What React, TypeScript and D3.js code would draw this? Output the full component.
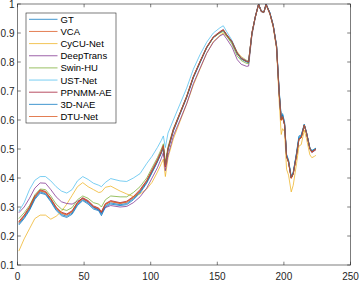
import React from "react";
import * as d3 from "d3";

const bands = [1, 5, 9, 13, 17, 21, 25, 29, 33, 37, 41, 45, 49, 53, 57, 61, 63, 66, 70, 77, 82, 87, 92, 97, 101, 105, 108, 109.5, 111, 113, 117, 122, 127, 132, 137, 142, 147, 152, 154.5, 157, 161, 165, 168, 172, 173.5, 176, 178.5, 181, 183, 185, 186.6, 189.5, 192, 194.5, 196.5, 198, 199, 200.5, 202, 203.5, 205.5, 207, 209.5, 211.3, 213, 215.3, 217, 219.5, 221, 223, 224];

const GT = [0.238, 0.26, 0.288, 0.326, 0.348, 0.343, 0.318, 0.288, 0.27, 0.264, 0.275, 0.305, 0.322, 0.31, 0.293, 0.287, 0.27, 0.3, 0.31, 0.305, 0.308, 0.325, 0.348, 0.382, 0.418, 0.455, 0.486, 0.505, 0.445, 0.498, 0.562, 0.62, 0.677, 0.745, 0.797, 0.848, 0.884, 0.902, 0.91, 0.893, 0.868, 0.828, 0.81, 0.8, 0.798, 0.898, 0.955, 1.0, 0.976, 0.973, 1.0, 0.97, 0.928, 0.858, 0.7, 0.61, 0.622, 0.592, 0.482, 0.462, 0.405, 0.42, 0.488, 0.545, 0.548, 0.585, 0.558, 0.505, 0.495, 0.5, 0.503];
const VCA = [0.245, 0.268, 0.295, 0.333, 0.355, 0.35, 0.326, 0.296, 0.278, 0.272, 0.283, 0.313, 0.328, 0.318, 0.3, 0.293, 0.28, 0.308, 0.318, 0.312, 0.316, 0.332, 0.355, 0.388, 0.423, 0.458, 0.488, 0.508, 0.442, 0.5, 0.565, 0.622, 0.679, 0.748, 0.8, 0.85, 0.885, 0.903, 0.91, 0.894, 0.87, 0.83, 0.812, 0.802, 0.8, 0.9, 0.955, 1.0, 0.975, 0.972, 1.0, 0.968, 0.925, 0.853, 0.688, 0.598, 0.61, 0.583, 0.473, 0.453, 0.398, 0.413, 0.478, 0.533, 0.538, 0.582, 0.553, 0.5, 0.488, 0.495, 0.498];
const CyCU = [0.148, 0.19, 0.225, 0.26, 0.272, 0.272, 0.258, 0.268, 0.285, 0.31, 0.34, 0.37, 0.384, 0.37, 0.36, 0.35, 0.352, 0.368, 0.372, 0.355, 0.345, 0.336, 0.345, 0.362, 0.385, 0.42, 0.45, 0.465, 0.405, 0.47, 0.535, 0.595, 0.655, 0.72, 0.775, 0.83, 0.87, 0.892, 0.9, 0.888, 0.868, 0.835, 0.818, 0.806, 0.804, 0.9, 0.955, 1.0, 0.975, 0.972, 0.998, 0.965, 0.92, 0.845, 0.66, 0.55, 0.57, 0.56, 0.43, 0.41, 0.352, 0.375, 0.45, 0.51, 0.515, 0.565, 0.535, 0.48, 0.47, 0.475, 0.478];
const DeepTrans = [0.28, 0.3, 0.33, 0.365, 0.383, 0.382, 0.36, 0.335, 0.318, 0.312, 0.31, 0.32, 0.33, 0.318, 0.3, 0.29, 0.28, 0.298, 0.305, 0.3, 0.302, 0.315, 0.335, 0.365, 0.4, 0.435, 0.468, 0.488, 0.425, 0.478, 0.545, 0.6, 0.656, 0.725, 0.778, 0.83, 0.868, 0.89, 0.896, 0.88, 0.852, 0.808, 0.792, 0.785, 0.786, 0.892, 0.952, 0.998, 0.973, 0.97, 0.996, 0.965, 0.922, 0.85, 0.685, 0.6, 0.61, 0.583, 0.475, 0.455, 0.4, 0.415, 0.48, 0.535, 0.54, 0.582, 0.553, 0.5, 0.488, 0.494, 0.497];
const SwinHU = [0.26, 0.28, 0.305, 0.342, 0.362, 0.36, 0.338, 0.31, 0.293, 0.288, 0.298, 0.325, 0.338, 0.33, 0.315, 0.31, 0.3, 0.325, 0.338, 0.335, 0.335, 0.35, 0.37, 0.4, 0.435, 0.47, 0.5, 0.518, 0.455, 0.508, 0.57, 0.625, 0.682, 0.748, 0.8, 0.85, 0.885, 0.9, 0.905, 0.89, 0.862, 0.82, 0.805, 0.795, 0.794, 0.896, 0.954, 0.999, 0.974, 0.971, 0.998, 0.967, 0.924, 0.852, 0.688, 0.6, 0.61, 0.584, 0.475, 0.455, 0.4, 0.415, 0.48, 0.535, 0.54, 0.583, 0.555, 0.502, 0.49, 0.497, 0.5];
const USTNet = [0.285, 0.315, 0.36, 0.392, 0.405, 0.405, 0.39, 0.37, 0.355, 0.348, 0.36, 0.39, 0.405, 0.395, 0.382, 0.375, 0.37, 0.385, 0.398, 0.39, 0.388, 0.4, 0.415, 0.45, 0.475, 0.505, 0.53, 0.545, 0.505, 0.555, 0.6, 0.655, 0.71, 0.775, 0.825, 0.868, 0.9, 0.918, 0.925, 0.905, 0.875, 0.832, 0.815, 0.805, 0.803, 0.9, 0.956, 1.0, 0.976, 0.973, 1.0, 0.97, 0.927, 0.855, 0.695, 0.608, 0.62, 0.59, 0.48, 0.46, 0.403, 0.418, 0.485, 0.54, 0.545, 0.585, 0.556, 0.502, 0.492, 0.5, 0.502];
const PPNMM = [0.25, 0.272, 0.3, 0.338, 0.359, 0.354, 0.33, 0.3, 0.282, 0.276, 0.287, 0.316, 0.332, 0.322, 0.304, 0.296, 0.284, 0.312, 0.322, 0.315, 0.32, 0.336, 0.36, 0.392, 0.428, 0.463, 0.493, 0.512, 0.438, 0.502, 0.568, 0.625, 0.682, 0.75, 0.802, 0.852, 0.887, 0.905, 0.912, 0.895, 0.871, 0.831, 0.813, 0.803, 0.801, 0.9, 0.956, 1.0, 0.975, 0.972, 1.0, 0.968, 0.925, 0.853, 0.69, 0.6, 0.612, 0.585, 0.475, 0.455, 0.4, 0.415, 0.48, 0.535, 0.54, 0.583, 0.555, 0.502, 0.49, 0.497, 0.5];
const NAE3D = [0.242, 0.264, 0.292, 0.33, 0.352, 0.346, 0.322, 0.292, 0.274, 0.268, 0.279, 0.309, 0.325, 0.314, 0.297, 0.29, 0.275, 0.304, 0.314, 0.308, 0.312, 0.329, 0.352, 0.385, 0.42, 0.456, 0.487, 0.506, 0.443, 0.498, 0.563, 0.621, 0.678, 0.746, 0.798, 0.849, 0.884, 0.902, 0.909, 0.892, 0.869, 0.829, 0.811, 0.801, 0.799, 0.899, 0.955, 1.0, 0.975, 0.972, 1.0, 0.969, 0.926, 0.855, 0.695, 0.605, 0.618, 0.588, 0.478, 0.458, 0.402, 0.418, 0.485, 0.54, 0.545, 0.584, 0.556, 0.503, 0.493, 0.499, 0.502];
const DTUNet = [0.248, 0.27, 0.298, 0.336, 0.357, 0.352, 0.328, 0.298, 0.28, 0.274, 0.285, 0.315, 0.33, 0.32, 0.302, 0.295, 0.282, 0.31, 0.32, 0.313, 0.318, 0.334, 0.357, 0.39, 0.425, 0.46, 0.49, 0.51, 0.44, 0.5, 0.566, 0.623, 0.68, 0.749, 0.8, 0.85, 0.885, 0.903, 0.91, 0.893, 0.87, 0.83, 0.812, 0.802, 0.8, 0.9, 0.955, 0.998, 0.975, 0.972, 0.998, 0.968, 0.925, 0.853, 0.69, 0.6, 0.612, 0.585, 0.475, 0.455, 0.4, 0.415, 0.48, 0.535, 0.54, 0.583, 0.555, 0.502, 0.49, 0.497, 0.5];

const seriesNames = ["GT", "VCA", "CyCU-Net", "DeepTrans", "Swin-HU", "UST-Net", "PPNMM-AE", "3D-NAE", "DTU-Net"];
const seriesValues = [GT, VCA, CyCU, DeepTrans, SwinHU, USTNet, PPNMM, NAE3D, DTUNet];
const seriesColors = ["#0072BD", "#D95319", "#EDB120", "#7E2F8E", "#77AC30", "#4DBEEE", "#A2142F", "#0072BD", "#D95319"];

const xTicks = [0, 50, 100, 150, 200, 250];
const yTicks = [0.1, 0.2, 0.3, 0.4, 0.5, 0.6, 0.7, 0.8, 0.9, 1];

const W = 360, H = 282;
const L = 17.5, R = 350.5, T = 4, B = 265;

export default function App() {
  const x = d3.scaleLinear().domain([0, 250]).range([L, R]);
  const y = d3.scaleLinear().domain([0.1, 1]).range([B, T]);
  const line = d3.line<[number, number]>().x(d => x(d[0])).y(d => y(d[1]));
  const font = "'Liberation Sans', Arial, Helvetica, sans-serif";
  const axisColor = "#262626";
  const legX = 26, legY = 13, legW = 90, legH = 110, legStep = 12.15;
  return (
    <svg width={W} height={H} style={{ position: "absolute", left: 0, top: 0, background: "#fff" }} fontFamily={font}>
      <rect x={0} y={0} width={W} height={H} fill="#fff" />
      <g>
        {seriesValues.map((vals, i) => (
          <path key={i} d={line(bands.map((b, j) => [b, vals[j]] as [number, number])) || ""} fill="none" stroke={seriesColors[i]} strokeWidth={0.75} strokeLinejoin="round" />
        ))}
      </g>
      <rect x={L} y={T} width={R - L} height={B - T} fill="none" stroke={axisColor} strokeWidth={0.6} />
      {xTicks.map(t => (
        <g key={"x" + t}>
          <line x1={x(t)} x2={x(t)} y1={B} y2={B - 3.3} stroke={axisColor} strokeWidth={0.6} />
          <line x1={x(t)} x2={x(t)} y1={T} y2={T + 3.3} stroke={axisColor} strokeWidth={0.6} />
          <text x={x(t)} y={280} textAnchor="middle" fontSize={10} fill={axisColor}>{t}</text>
        </g>
      ))}
      {yTicks.map(t => (
        <g key={"y" + t}>
          <line x1={L} x2={L + 3.3} y1={y(t)} y2={y(t)} stroke={axisColor} strokeWidth={0.6} />
          <line x1={R} x2={R - 3.3} y1={y(t)} y2={y(t)} stroke={axisColor} strokeWidth={0.6} />
          <text x={14.5} y={y(t) + 3.5} textAnchor="end" fontSize={10} fill={axisColor}>{String(t)}</text>
        </g>
      ))}
      <rect x={legX} y={legY} width={legW} height={legH} fill="#fff" stroke={axisColor} strokeWidth={0.6} />
      {seriesNames.map((n, i) => (
        <g key={n}>
          <line x1={legX + 3} x2={legX + 31.5} y1={legY + 6.3 + i * legStep} y2={legY + 6.3 + i * legStep} stroke={seriesColors[i]} strokeWidth={0.75} />
          <text x={legX + 34.5} y={legY + 9.8 + i * legStep} fontSize={9.5} fill="#000">{n}</text>
        </g>
      ))}
    </svg>
  );
}
